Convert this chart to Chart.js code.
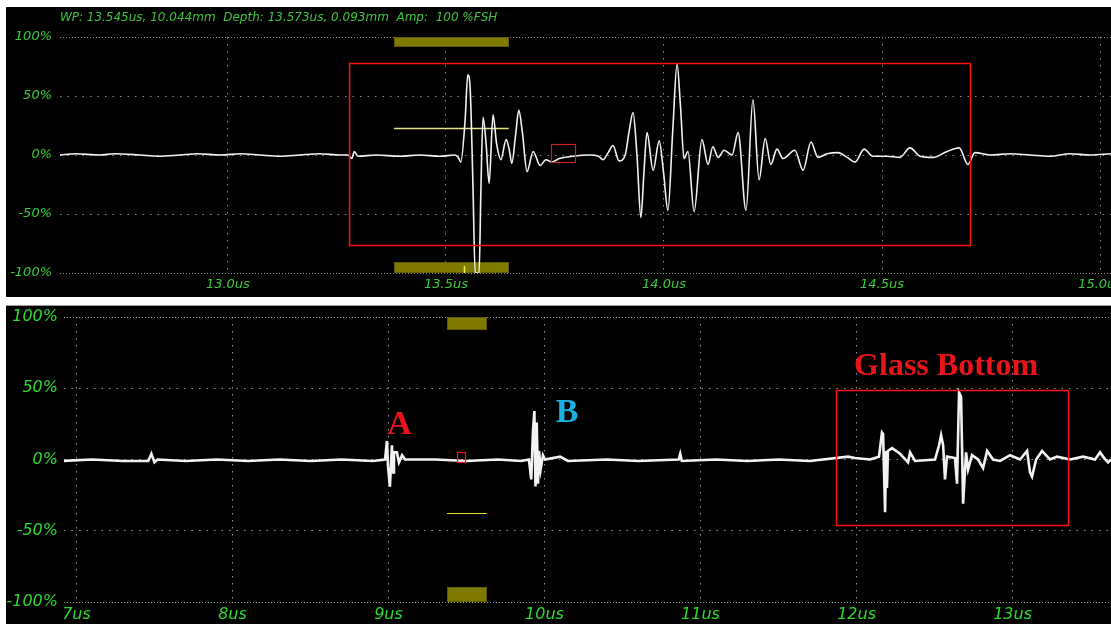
<!DOCTYPE html>
<html>
<head>
<meta charset="utf-8">
<script src="https://cdn.jsdelivr.net/npm/chart.js@4.4.1/dist/chart.umd.min.js"></script>
<style>
  html, body { margin: 0; padding: 0; background: #fff; }
  #wrap { position: relative; width: 1111px; height: 624px; overflow: hidden; background: #fff; }
  .panel { position: absolute; left: 6px; width: 1105px; background: #000; }
  #topPanel { top: 7px; height: 290px; }
  #botPanel { top: 305px; height: 319px; border-top: 1px solid #a0a0a0; }
  canvas { display: block; }
  #hdr { position: absolute; left: 54px; top: 3px; font: italic 12px "DejaVu Sans"; color: #3fc33f; white-space: pre; z-index: 2; }
</style>
</head>
<body>
<div id="wrap">
  <div class="panel" id="topPanel">
    <div id="hdr">WP: 13.545us, 10.044mm  Depth: 13.573us, 0.093mm  Amp:  100 %FSH</div>
    <canvas id="topChart" width="1105" height="290"></canvas>
  </div>
  <div class="panel" id="botPanel">
    <canvas id="botChart" width="1105" height="318"></canvas>
  </div>
</div>
<script>
// ---- Amplitude axis (shared by both views) ----
const ampTicks = [100, 50, 0, -50, -100];
const ampTickLabels = ['100%', '50%', '0%', '-50%', '-100%'];

// ---- Zoomed A-scan (upper view) ----
const topTickValues = [13.0, 13.5, 14.0, 14.5, 15.0];
const topTickLabels = ['13.0us', '13.5us', '14.0us', '14.5us', '15.0us'];
const topTimes = [
  12.615, 12.650, 12.706, 12.740, 12.798, 12.840, 12.890, 12.930, 12.982, 13.030,
  13.073, 13.120, 13.165, 13.210, 13.257, 13.275, 13.284, 13.290, 13.298, 13.340,
  13.394, 13.440, 13.486, 13.520, 13.528, 13.534, 13.544, 13.550, 13.555, 13.562,
  13.567, 13.576, 13.580, 13.585, 13.592, 13.599, 13.608, 13.616, 13.626, 13.638,
  13.645, 13.651, 13.660, 13.667, 13.675, 13.686, 13.700, 13.716, 13.729, 13.743,
  13.760, 13.791, 13.830, 13.850, 13.860, 13.872, 13.883, 13.897, 13.911, 13.920,
  13.929, 13.938, 13.947, 13.954, 13.961, 13.975, 13.989, 13.999, 14.009, 14.020,
  14.030, 14.038, 14.046, 14.055, 14.069, 14.087, 14.101, 14.112, 14.124, 14.138,
  14.156, 14.170, 14.188, 14.204, 14.218, 14.232, 14.245, 14.259, 14.273, 14.300,
  14.319, 14.337, 14.353, 14.374, 14.399, 14.420, 14.438, 14.459, 14.479, 14.511,
  14.541, 14.564, 14.587, 14.617, 14.649, 14.677, 14.697, 14.713, 14.748, 14.794,
  14.839, 14.885, 14.931, 14.977, 15.025
];
const topAmp = [
  0, 1, 0, 1, 0, -1, 0, 1, 0, 1,
  0, -1, 0, 1, 0, 0, -3, 3, -1, 0,
  -1, 0, -1, 0, -2, -6, 30, 68, 60, -27,
  -100, -100, -32, 32, 10, -24, 34, 10, -4, 13,
  5, -7, 18, 38, 20, -14, 3, -9, -4, -6,
  -3, -1, 0, -1, -4, 2, 8, -5, 0, 20,
  36, 0, -53, -15, 19, -13, 12, -15, -47, 20,
  77, 40, -3, 3, -48, 13, -8, 7, -2, 4,
  0, 19, -47, 47, -21, 14, -8, 5, -3, 4,
  -13, 11, -2, 1, 2, -2, -6, 5, -1, -1,
  -2, 6, -1, -2, 3, 6, -8, 2, 0, 1,
  0, -1, 1, 0, 1
];
// gate and cursor markers, in us / %FSH
const topGateSpan = [13.381, 13.644];
const topGateBars = [[100, 91.5], [-90.7, -100]];
const topGateLevel = 22.9;
const topDepthMark = [13.541, -94, -100];
const topRegionBox = [13.2775, 14.702, 78.0, -76.3];
const topCursorBox = [13.741, 13.796, 9.3, -5.9];

// ---- Full A-scan (lower view) ----
const botTickValues = [7, 8, 9, 10, 11, 12, 13];
const botTickLabels = ['7us', '8us', '9us', '10us', '11us', '12us', '13us'];
const botTimes = [
  6.920, 7.100, 7.300, 7.460, 7.480, 7.500, 7.520, 7.700, 7.900, 8.100,
  8.300, 8.500, 8.700, 8.900, 8.978, 8.990, 8.997, 9.009, 9.022, 9.029,
  9.035, 9.054, 9.067, 9.087, 9.106, 9.300, 9.500, 9.700, 9.850, 9.900,
  9.915, 9.926, 9.935, 9.942, 9.950, 9.958, 9.965, 9.975, 9.990, 10.003,
  10.100, 10.150, 10.400, 10.600, 10.860, 10.870, 10.880, 11.100, 11.300, 11.500,
  11.700, 11.946, 11.990, 12.086, 12.144, 12.163, 12.170, 12.183, 12.189, 12.195,
  12.201, 12.228, 12.279, 12.330, 12.343, 12.375, 12.503, 12.529, 12.542, 12.555,
  12.567, 12.580, 12.631, 12.644, 12.657, 12.670, 12.683, 12.702, 12.715, 12.740,
  12.779, 12.811, 12.837, 12.875, 12.920, 12.984, 13.048, 13.093, 13.112, 13.125,
  13.151, 13.189, 13.240, 13.285, 13.369, 13.452, 13.529, 13.561, 13.587, 13.612,
  13.631
];
const botAmp = [
  -1, 0, -1, -1, 4, -2, 0, -1, 0, -1,
  0, -1, 0, -1, 0, 13, -5, -19, 10, -9,
  5, 5, -2, 3, 0, 0, -1, 0, -1, 0,
  -14, 20, 34, -19, 26, -17, 6, -7, 3, 0,
  2, -1, 0, -1, 0, 4, -1, 0, -1, 0,
  -1, 2, 1, 0, 2, 19, 18, -37, 6, -20,
  6, 8, 4, -2, 5, -1, 0, 10, 17, 10,
  -14, 2, 1, -17, 47, 44, -31, 5, -7, 3,
  0, -6, 6, 0, -1, 3, 0, 6, -9, -12,
  0, 6, 0, 2, 0, 2, 0, 5, 1, -2,
  0
];
const botGateSpan = [9.375, 9.631];
const botGateBars = [[100, 90.9], [-89.5, -100]];
const botGateLevel = -37.7;
const botCursorBox = [9.439, 9.490, 5.6, -2.1];
const botRegionBox = [11.869, 13.356, 48.9, -46.1];
const echoLabels = ['A', 'B', 'Glass Bottom'];
const echoLabelPos = [[9.071, 18.2], [10.144, 26.6], [12.574, 59.4]];

// ---- drawing helpers ----
function toPoints(xs, ys) { return xs.map((x, i) => ({ x: x, y: ys[i] })); }

function rectPx(chart, box) {
  const xs = chart.scales.x, ys = chart.scales.y;
  const x0 = Math.round(xs.getPixelForValue(box[0])), x1 = Math.round(xs.getPixelForValue(box[1]));
  const y0 = Math.round(ys.getPixelForValue(box[2])), y1 = Math.round(ys.getPixelForValue(box[3]));
  return [Math.min(x0, x1), Math.min(y0, y1), Math.abs(x1 - x0), Math.abs(y1 - y0)];
}

function drawGate(ctx, chart, span, bars, level, levelColor, levelWidth) {
  ctx.save();
  bars.forEach(b => {
    const r = rectPx(chart, [span[0], span[1], b[0], b[1]]);
    ctx.fillStyle = '#7f7b00';
    ctx.fillRect(r[0], r[1], r[2], r[3]);
    ctx.strokeStyle = '#5f5c00';
    ctx.lineWidth = 1;
    ctx.strokeRect(r[0] + 0.5, r[1] + 0.5, r[2] - 1, r[3] - 1);
  });
  const xs = chart.scales.x, ys = chart.scales.y;
  const yl = Math.round(ys.getPixelForValue(level)) + 0.5;
  ctx.strokeStyle = levelColor;
  ctx.lineWidth = levelWidth;
  ctx.beginPath();
  ctx.moveTo(xs.getPixelForValue(span[0]), yl);
  ctx.lineTo(xs.getPixelForValue(span[1]), yl);
  ctx.stroke();
  ctx.restore();
}

function drawBox(ctx, chart, box, color, width) {
  const r = rectPx(chart, box);
  ctx.save();
  ctx.strokeStyle = color;
  ctx.lineWidth = width;
  ctx.strokeRect(r[0] + 0.5, r[1] + 0.5, r[2], r[3]);
  ctx.restore();
}

const topOverlay = {
  id: 'topOverlay',
  beforeDatasetsDraw(chart) {
    const ctx = chart.ctx;
    drawGate(ctx, chart, topGateSpan, topGateBars, topGateLevel, '#e4e48a', 1.5);
    const xs = chart.scales.x, ys = chart.scales.y;
    const xm = Math.round(xs.getPixelForValue(topDepthMark[0])) + 0.5;
    ctx.save();
    ctx.strokeStyle = '#f4f43a';
    ctx.lineWidth = 1.5;
    ctx.beginPath();
    ctx.moveTo(xm, ys.getPixelForValue(topDepthMark[1]));
    ctx.lineTo(xm, ys.getPixelForValue(topDepthMark[2]));
    ctx.stroke();
    ctx.restore();
  },
  afterDatasetsDraw(chart) {
    drawBox(chart.ctx, chart, topRegionBox, '#ff1010', 1.5);
    drawBox(chart.ctx, chart, topCursorBox, '#c82020', 1.2);
  }
};

const echoColors = ['#e8141a', '#1ab2e4', '#e8141a'];
const echoFonts = ['bold 34px "Liberation Serif"', 'bold 34px "Liberation Serif"', 'bold 32px "Liberation Serif"'];

const botOverlay = {
  id: 'botOverlay',
  beforeDatasetsDraw(chart) {
    drawGate(chart.ctx, chart, botGateSpan, botGateBars, botGateLevel, '#e6e020', 1);
  },
  afterDatasetsDraw(chart) {
    const ctx = chart.ctx;
    drawBox(ctx, chart, botCursorBox, '#ff1010', 1.2);
    drawBox(ctx, chart, botRegionBox, '#ff1010', 1.5);
    ctx.save();
    ctx.textAlign = 'center';
    ctx.textBaseline = 'alphabetic';
    echoLabels.forEach((t, i) => {
      ctx.font = echoFonts[i];
      ctx.fillStyle = echoColors[i];
      ctx.fillText(t, chart.scales.x.getPixelForValue(echoLabelPos[i][0]),
                      chart.scales.y.getPixelForValue(echoLabelPos[i][1]));
    });
    ctx.restore();
  }
};

function makeScope(canvasId, cfg) {
  const dash = (c) => (c.tick && Math.abs(c.tick.value) === 100) ? [1, 2] : [1.5, 6];
  return new Chart(document.getElementById(canvasId), {
    type: 'line',
    data: {
      datasets: [{
        data: toPoints(cfg.times, cfg.amps),
        borderColor: '#f2f2f2',
        borderWidth: cfg.lineWidth,
        pointRadius: 0,
        tension: cfg.smooth ? 0.4 : 0,
        cubicInterpolationMode: cfg.smooth ? 'monotone' : 'default',
        fill: false
      }]
    },
    options: {
      responsive: false,
      animation: false,
      devicePixelRatio: 1,
      layout: { padding: { top: cfg.padTop, left: 0, right: 0, bottom: 0 } },
      plugins: { legend: { display: false }, tooltip: { enabled: false } },
      events: [],
      scales: {
        x: {
          type: 'linear',
          min: cfg.xMin, max: cfg.xMax,
          afterBuildTicks: s => { s.ticks = cfg.tickValues.map(v => ({ value: v })); },
          afterFit: s => { s.height = cfg.xHeight; s.paddingLeft = 0; s.paddingRight = 0; },
          ticks: {
            callback: (v, i) => cfg.tickLabels[i],
            color: cfg.labelColor,
            font: { family: 'DejaVu Sans', style: 'italic', size: cfg.xFont },
            padding: cfg.xPad,
            maxRotation: 0, autoSkip: false
          },
          grid: { color: cfg.vGridColor, lineWidth: 1, drawTicks: false },
          border: { display: false, dash: [1.5, 5.5] }
        },
        y: {
          min: -100, max: 100,
          afterBuildTicks: s => { s.ticks = ampTicks.map(v => ({ value: v })); },
          afterFit: s => { s.width = cfg.yWidth; s.paddingTop = 0; s.paddingBottom = 0; },
          ticks: {
            callback: (v, i) => ampTickLabels[i],
            color: cfg.labelColor,
            font: { family: 'DejaVu Sans', style: 'italic', size: cfg.yFont },
            padding: cfg.yPad,
            autoSkip: false
          },
          grid: { color: cfg.hGridColor, lineWidth: 1, drawTicks: false },
          border: { display: false, dash: dash }
        }
      }
    },
    plugins: [cfg.overlay]
  });
}

makeScope('topChart', {
  times: topTimes, amps: topAmp, lineWidth: 1.6, smooth: true,
  xMin: 12.615, xMax: 15.025,
  tickValues: topTickValues, tickLabels: topTickLabels,
  padTop: 30, xHeight: 24, yWidth: 54,
  xFont: 13, yFont: 13, xPad: 4, yPad: 8,
  labelColor: '#3ccc3c', vGridColor: '#8c8c8c', hGridColor: '#8c8c8c',
  overlay: topOverlay
});

makeScope('botChart', {
  times: botTimes, amps: botAmp, lineWidth: 2.6, smooth: false,
  xMin: 6.92, xMax: 13.631,
  tickValues: botTickValues, tickLabels: botTickLabels,
  padTop: 11, xHeight: 22, yWidth: 58,
  xFont: 16, yFont: 16, xPad: 3, yPad: 6,
  labelColor: '#2ed82e', vGridColor: '#8a9a8a', hGridColor: '#8a9a8a',
  overlay: botOverlay
});
</script>
</body>
</html>
